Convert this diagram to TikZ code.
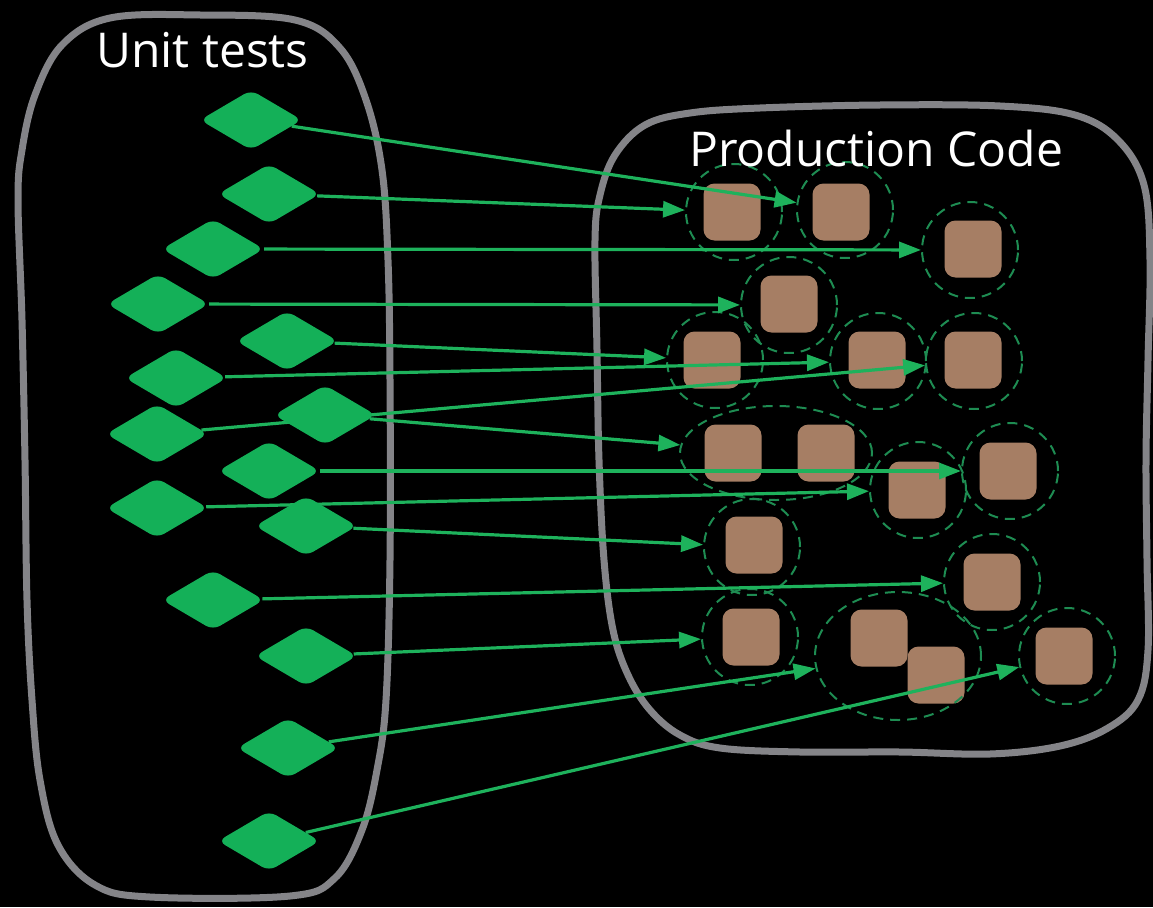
\documentclass[tikz,border=0pt]{standalone}
\usepackage{fontspec}
\setmainfont{Open Sans}
\usetikzlibrary{arrows.meta,shapes.geometric}
\definecolor{testgreen}{RGB}{20,176,88}
\definecolor{linkgreen}{RGB}{30,178,92}
\definecolor{ringgreen}{RGB}{30,140,82}
\definecolor{codebrown}{RGB}{166,126,100}
\definecolor{blobgray}{RGB}{132,132,136}
\pgfdeclarelayer{back}
\pgfdeclarelayer{code}
\pgfdeclarelayer{links}
\pgfsetlayers{back,code,links,main}
\begin{document}
\begin{tikzpicture}[x=1pt,y=-1pt,
  test/.style={shape=diamond, fill=testgreen, minimum width=102pt, minimum height=60pt, inner sep=0pt, rounded corners=8pt},
  unit/.style={rectangle, fill=codebrown, minimum size=57pt, inner sep=0pt, rounded corners=11pt},
  ring/.style={circle, draw=ringgreen, line width=2pt, dash pattern=on 10pt off 7pt, minimum size=96pt, inner sep=0pt},
  oval/.style={ellipse, draw=ringgreen, line width=2pt, dash pattern=on 10pt off 7pt, inner sep=0pt},
  link/.style={draw=linkgreen, line width=3.2pt, -{Triangle[length=22pt,width=16pt]}},
  blob/.style={draw=blobgray, line width=7pt},
  title/.style={text=white, font=\fontsize{48}{52}\selectfont, inner sep=0pt, anchor=base west}
]
\begin{pgfonlayer}{back}
  \fill[black] (0,0) rectangle (1153,907);
  \useasboundingbox (0,0) rectangle (1153,907);
  % test suite outline
  \draw[blob] plot[smooth cycle, tension=0.6] coordinates {
    (18,200) (22,320) (25,460) (27,600) (32,700) (40,780) (58,845) (95,885)
    (150,897) (290,896) (335,878) (362,830) (377,770) (386,700) (390,560)
    (390,380) (388,260) (382,170) (366,100) (340,48) (295,20) (200,15)
    (110,18) (62,45) (35,95) (22,150)};
  % production code outline
  \draw[blob] plot[smooth cycle, tension=0.6] coordinates {
    (595,240) (597,350) (599,460) (604,560) (613,630) (628,675) (650,710)
    (680,735) (720,748) (800,752) (900,752) (990,754) (1060,746) (1108,728)
    (1138,700) (1148,650) (1147,560) (1146,460) (1148,360) (1150,260)
    (1144,185) (1118,140) (1075,115) (1000,106) (880,105) (760,108)
    (690,113) (645,125) (615,155) (600,195)};
\end{pgfonlayer}

\begin{pgfonlayer}{code}
  % units of production code
  \node[unit] (sA) at (732,212) {};
  \node[unit] (sB) at (841,212) {};
  \node[unit] (sC) at (973,249) {};
  \node[unit] (sD) at (789,304) {};
  \node[unit] (sE) at (712,360) {};
  \node[unit] (sF) at (877,360) {};
  \node[unit] (sG) at (973,360) {};
  \node[unit] (sH) at (733,453) {};
  \node[unit] (sI) at (826,453) {};
  \node[unit] (sJ) at (917,490) {};
  \node[unit] (sK) at (1008,471) {};
  \node[unit] (sL) at (754,545) {};
  \node[unit] (sM) at (992,582) {};
  \node[unit] (sN) at (751,637) {};
  \node[unit] (sO) at (879,638) {};
  \node[unit] (sP) at (936,675) {};
  \node[unit] (sQ) at (1064,656) {};
  % dashed boundaries of what each test exercises
  \node[ring] (cA) at (734,212) {};
  \node[ring] (cB) at (845,210) {};
  \node[ring] (cC) at (970,250) {};
  \node[ring] (cD) at (789,305) {};
  \node[ring] (cE) at (715,360) {};
  \node[ring] (cF) at (878,361) {};
  \node[ring] (cG) at (974,361) {};
  \node[oval, minimum width=192pt, minimum height=94pt] (cHI) at (776,453) {};
  \node[ring] (cJ) at (918,490) {};
  \node[ring] (cK) at (1010,471) {};
  \node[ring] (cL) at (752,547) {};
  \node[ring] (cM) at (992,582) {};
  \node[ring] (cN) at (750,637) {};
  \node[oval, minimum width=166pt, minimum height=128pt] (cOP) at (898,656) {};
  \node[ring] (cQ) at (1067,656) {};
\end{pgfonlayer}

% unit tests
\node[test] (t1) at (251,120) {};
\node[test] (t2) at (269,194) {};
\node[test] (t3) at (213,249) {};
\node[test] (t4) at (158,304) {};
\node[test] (t5) at (287,341) {};
\node[test] (t6) at (176,378) {};
\node[test] (t7) at (325,415) {};
\node[test] (t8) at (157,434) {};
\node[test] (t9) at (269,471) {};
\node[test] (t10) at (157,508) {};
\node[test] (t11) at (306,526) {};
\node[test] (t12) at (213,600) {};
\node[test] (t13) at (306,656) {};
\node[test] (t14) at (288,748) {};
\node[test] (t15) at (269,841) {};

\begin{pgfonlayer}{links}
  \draw[link] (t1) -- (cB);
  \draw[link] (t2) -- (cA);
  \draw[link] (t3) -- (cC);
  \draw[link] (t4) -- (cD);
  \draw[link] (t5) -- (cE);
  \draw[link] (t6) -- (cF);
  \draw[link] (t7) -- (cHI);
  \draw[link] (t8) -- (cG);
  \draw[link] (t9) -- (cK);
  \draw[link] (t10) -- (cJ);
  \draw[link] (t11) -- (cL);
  \draw[link] (t12) -- (cM);
  \draw[link] (t13) -- (cN);
  \draw[link] (t14) -- (cOP);
  \draw[link] (t15) -- (cQ);
\end{pgfonlayer}

\node[title] (unitlabel) at (96,67) {Unit tests};
\node[title] (codelabel) at (689,166) {Production Code};
\end{tikzpicture}
\end{document}
